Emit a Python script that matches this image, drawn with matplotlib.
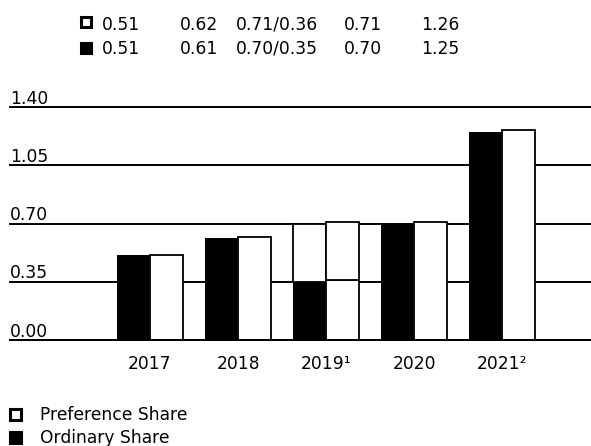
import matplotlib.pyplot as plt
from matplotlib.patches import Rectangle

plt.rcParams['font.family'] = ['DejaVu Sans']

# dividend per share, by year
years = ['2017', '2018', '2019¹', '2020', '2021²']
ordinary = [0.51, 0.61, 0.70, 0.70, 1.25]
preference = [0.51, 0.62, 0.71, 0.71, 1.26]
# 2019 was paid in two parts: first part / total
ordinary_part_2019 = 0.35
preference_part_2019 = 0.36
split_year = 2

yticks = [0.00, 0.35, 0.70, 1.05, 1.40]

W, H = 591, 446
FS = 12.3
fig = plt.figure(figsize=(W / 100, H / 100), dpi=100)

# axes: left edge at px 10, bottom (0.00) at px 340, top (1.40) at px 107
ax = fig.add_axes([10 / W, 1 - 340 / H, 1 - 10 / W, 233 / H])
ax.set_ylim(0, 1.40)
ax.set_xlim(-140 / 88, 441 / 88)

bw = 0.375
off = 0.19
edge = dict(color='white', edgecolor='black', linewidth=1.3, zorder=2)
for i in range(len(years)):
    if i == split_year:
        # ordinary: black first part, outlined white second part
        ax.bar(i - off, ordinary_part_2019, bw, color='black', zorder=2)
        ax.bar(i - off, ordinary[i] - ordinary_part_2019, bw,
               bottom=ordinary_part_2019, **edge)
        ax.bar(i + off, preference_part_2019, bw, **edge)
        ax.bar(i + off, preference[i] - preference_part_2019, bw,
               bottom=preference_part_2019, **edge)
    else:
        ax.bar(i - off, ordinary[i], bw, color='black', zorder=2)
        ax.bar(i + off, preference[i], bw, **edge)

# gridlines with labels sitting on them
for v in yticks:
    ax.axhline(v, color='black', linewidth=1.4, zorder=1, clip_on=False)
    ax.annotate(f'{v:.2f}', xy=(0, v), xycoords=ax.get_yaxis_transform(),
                xytext=(0, 2.5), textcoords='offset points',
                ha='left', va='baseline', fontsize=FS)
# baseline on top of the bars
ax.axhline(0, color='black', linewidth=1.4, zorder=3, clip_on=False)

for s in ax.spines.values():
    s.set_visible(False)
ax.set_yticks([])
ax.set_xticks(range(len(years)))
ax.set_xticklabels(years, fontsize=FS)
ax.tick_params(axis='x', length=0, pad=10.5)

# value table on top
col_x = [121, 199, 277, 363, 440]
pref_labels = []
ord_labels = []
for i in range(len(years)):
    if i == split_year:
        pref_labels.append(f'{preference[i]:.2f}/{preference_part_2019:.2f}')
        ord_labels.append(f'{ordinary[i]:.2f}/{ordinary_part_2019:.2f}')
    else:
        pref_labels.append(f'{preference[i]:.2f}')
        ord_labels.append(f'{ordinary[i]:.2f}')

for base_y, labels in [(29.5, pref_labels), (53.5, ord_labels)]:
    for x, t in zip(col_x, labels):
        fig.text(x / W, 1 - base_y / H, t, ha='center', va='baseline', fontsize=FS)


def square(x, y, s, filled):
    # x, y: centre in pixels from top-left, s: side in pixels
    r = Rectangle(((x - s / 2) / W, 1 - (y + s / 2) / H), s / W, s / H,
                  transform=fig.transFigure,
                  facecolor='black' if filled else 'white',
                  edgecolor='black', linewidth=2.2)
    fig.add_artist(r)


square(86, 22, 10, False)
square(86, 47.5, 10, True)

# legend at the bottom
square(15.5, 414, 11, False)
fig.text(40 / W, 1 - 420 / H, 'Preference Share', ha='left', va='baseline', fontsize=FS)
square(15.5, 437.5, 11, True)
fig.text(40 / W, 1 - 443 / H, 'Ordinary Share', ha='left', va='baseline', fontsize=FS)

fig.savefig('out.png', dpi=100)
